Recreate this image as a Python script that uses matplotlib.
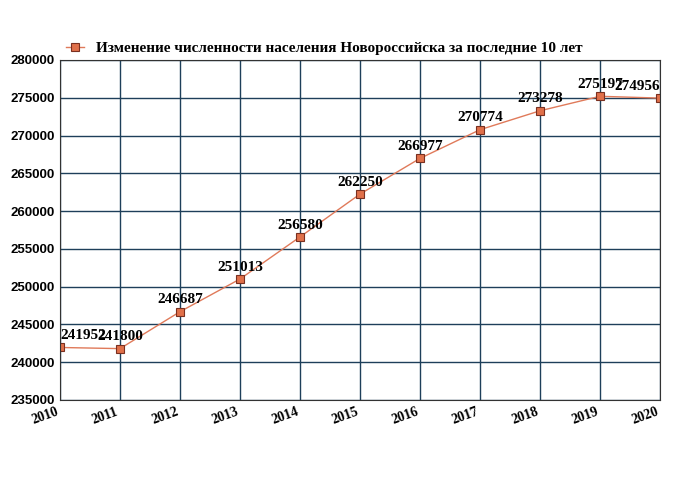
import matplotlib
matplotlib.use("Agg")
import matplotlib.pyplot as plt

years = [2010, 2011, 2012, 2013, 2014, 2015, 2016, 2017, 2018, 2019, 2020]
population = [241952, 241800, 246687, 251013, 256580, 262250, 266977, 270774, 273278, 275197, 274956]
title = "Изменение численности населения Новороссийска за последние 10 лет"

fig = plt.figure(figsize=(6.8, 5.0), dpi=100)
ax = fig.add_axes([60/680, 100/500, 600/680, 340/500])
ax.plot(years, population, color="#e07a5a", lw=1, marker="s", markersize=6,
        markerfacecolor="#e0704a", markeredgecolor="#7a3020", markeredgewidth=0.8, label=title)
n = len(years)
for i, (x, y) in enumerate(zip(years, population)):
    ha = "left" if i == 0 else ("right" if i == n - 1 else "center")
    ax.text(x, y + 700, str(y), ha=ha, va="bottom", fontsize=11,
            fontweight="bold", family="Liberation Serif")
ax.set_xlim(2010, 2020)
ax.set_ylim(235000, 280000)
ax.set_xticks(years)
ax.set_yticks(range(235000, 280001, 5000))
ax.grid(True, color="#1e3f5a", lw=1)
for s in ax.spines.values():
    s.set_color("#333333")
ax.tick_params(length=0, pad=4)
for lab in ax.get_xticklabels():
    lab.set_rotation(20); lab.set_ha("right"); lab.set_fontweight("bold")
    lab.set_family("Liberation Serif"); lab.set_fontsize(10)
for lab in ax.get_yticklabels():
    lab.set_fontweight("bold"); lab.set_family("Liberation Sans"); lab.set_fontsize(9.5)
leg = fig.legend(loc="upper left", bbox_to_anchor=(52/680, 1 - 28/500), frameon=False,
                 prop={"family": "Liberation Serif", "size": 11, "weight": "bold"},
                 handlelength=1.2)
fig.savefig("out.png")
